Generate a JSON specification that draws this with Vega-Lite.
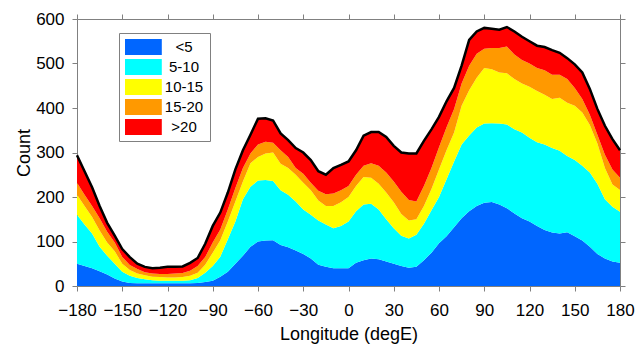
{
"$schema": "https://vega.github.io/schema/vega-lite/v6.json",
"width": 543, "height": 267,
"autosize": {"type": "none"},
"padding": {"left": 77, "top": 19, "right": 24, "bottom": 58},
"config": {"view": {"stroke": null}, "font": "Liberation Sans",
  "axis": {"grid": false, "domainColor": "#808080", "tickColor": "#808080", "tickSize": 5, "labelFontSize": 17, "labelColor": "#000000", "titleFontSize": 18, "titleFontWeight": "normal", "titleColor": "#000000", "labelFlush": false, "labelOverlap": false}},
"datasets": {"d": [
{"lon":-180,"c":"<5","k":1,"n":50},{"lon":-180,"c":"5-10","k":2,"n":110},{"lon":-180,"c":"10-15","k":3,"n":45},{"lon":-180,"c":"15-20","k":4,"n":27},{"lon":-180,"c":">20","k":5,"n":62},
{"lon":-175,"c":"<5","k":1,"n":45},{"lon":-175,"c":"5-10","k":2,"n":93},{"lon":-175,"c":"10-15","k":3,"n":42},{"lon":-175,"c":"15-20","k":4,"n":25},{"lon":-175,"c":">20","k":5,"n":53},
{"lon":-170,"c":"<5","k":1,"n":40},{"lon":-170,"c":"5-10","k":2,"n":78},{"lon":-170,"c":"10-15","k":3,"n":37},{"lon":-170,"c":"15-20","k":4,"n":25},{"lon":-170,"c":">20","k":5,"n":42},
{"lon":-165,"c":"<5","k":1,"n":33},{"lon":-165,"c":"5-10","k":2,"n":55},{"lon":-165,"c":"10-15","k":3,"n":37},{"lon":-165,"c":"15-20","k":4,"n":27},{"lon":-165,"c":">20","k":5,"n":28},
{"lon":-160,"c":"<5","k":1,"n":26},{"lon":-160,"c":"5-10","k":2,"n":42},{"lon":-160,"c":"10-15","k":3,"n":30},{"lon":-160,"c":"15-20","k":4,"n":24},{"lon":-160,"c":">20","k":5,"n":20},
{"lon":-155,"c":"<5","k":1,"n":17},{"lon":-155,"c":"5-10","k":2,"n":33},{"lon":-155,"c":"10-15","k":3,"n":28},{"lon":-155,"c":"15-20","k":4,"n":20},{"lon":-155,"c":">20","k":5,"n":15},
{"lon":-150,"c":"<5","k":1,"n":10},{"lon":-150,"c":"5-10","k":2,"n":22},{"lon":-150,"c":"10-15","k":3,"n":18},{"lon":-150,"c":"15-20","k":4,"n":15},{"lon":-150,"c":">20","k":5,"n":18},
{"lon":-145,"c":"<5","k":1,"n":7},{"lon":-145,"c":"5-10","k":2,"n":16},{"lon":-145,"c":"10-15","k":3,"n":13},{"lon":-145,"c":"15-20","k":4,"n":11},{"lon":-145,"c":">20","k":5,"n":18},
{"lon":-140,"c":"<5","k":1,"n":6},{"lon":-140,"c":"5-10","k":2,"n":12},{"lon":-140,"c":"10-15","k":3,"n":10},{"lon":-140,"c":"15-20","k":4,"n":10},{"lon":-140,"c":">20","k":5,"n":12},
{"lon":-135,"c":"<5","k":1,"n":6},{"lon":-135,"c":"5-10","k":2,"n":9},{"lon":-135,"c":"10-15","k":3,"n":9},{"lon":-135,"c":"15-20","k":4,"n":7},{"lon":-135,"c":">20","k":5,"n":12},
{"lon":-130,"c":"<5","k":1,"n":6},{"lon":-130,"c":"5-10","k":2,"n":7},{"lon":-130,"c":"10-15","k":3,"n":8},{"lon":-130,"c":"15-20","k":4,"n":7},{"lon":-130,"c":">20","k":5,"n":12},
{"lon":-125,"c":"<5","k":1,"n":6},{"lon":-125,"c":"5-10","k":2,"n":6},{"lon":-125,"c":"10-15","k":3,"n":8},{"lon":-125,"c":"15-20","k":4,"n":7},{"lon":-125,"c":">20","k":5,"n":14},
{"lon":-120,"c":"<5","k":1,"n":6},{"lon":-120,"c":"5-10","k":2,"n":6},{"lon":-120,"c":"10-15","k":3,"n":7},{"lon":-120,"c":"15-20","k":4,"n":8},{"lon":-120,"c":">20","k":5,"n":16},
{"lon":-115,"c":"<5","k":1,"n":6},{"lon":-115,"c":"5-10","k":2,"n":6},{"lon":-115,"c":"10-15","k":3,"n":7},{"lon":-115,"c":"15-20","k":4,"n":9},{"lon":-115,"c":">20","k":5,"n":15},
{"lon":-110,"c":"<5","k":1,"n":6},{"lon":-110,"c":"5-10","k":2,"n":6},{"lon":-110,"c":"10-15","k":3,"n":8},{"lon":-110,"c":"15-20","k":4,"n":9},{"lon":-110,"c":">20","k":5,"n":15},
{"lon":-105,"c":"<5","k":1,"n":6},{"lon":-105,"c":"5-10","k":2,"n":7},{"lon":-105,"c":"10-15","k":3,"n":10},{"lon":-105,"c":"15-20","k":4,"n":11},{"lon":-105,"c":">20","k":5,"n":18},
{"lon":-100,"c":"<5","k":1,"n":7},{"lon":-100,"c":"5-10","k":2,"n":11},{"lon":-100,"c":"10-15","k":3,"n":12},{"lon":-100,"c":"15-20","k":4,"n":15},{"lon":-100,"c":">20","k":5,"n":18},
{"lon":-95,"c":"<5","k":1,"n":9},{"lon":-95,"c":"5-10","k":2,"n":21},{"lon":-95,"c":"10-15","k":3,"n":18},{"lon":-95,"c":"15-20","k":4,"n":17},{"lon":-95,"c":">20","k":5,"n":30},
{"lon":-90,"c":"<5","k":1,"n":12},{"lon":-90,"c":"5-10","k":2,"n":33},{"lon":-90,"c":"10-15","k":3,"n":30},{"lon":-90,"c":"15-20","k":4,"n":23},{"lon":-90,"c":">20","k":5,"n":37},
{"lon":-85,"c":"<5","k":1,"n":21},{"lon":-85,"c":"5-10","k":2,"n":45},{"lon":-85,"c":"10-15","k":3,"n":37},{"lon":-85,"c":"15-20","k":4,"n":24},{"lon":-85,"c":">20","k":5,"n":38},
{"lon":-80,"c":"<5","k":1,"n":32},{"lon":-80,"c":"5-10","k":2,"n":73},{"lon":-80,"c":"10-15","k":3,"n":40},{"lon":-80,"c":"15-20","k":4,"n":27},{"lon":-80,"c":">20","k":5,"n":38},
{"lon":-75,"c":"<5","k":1,"n":50},{"lon":-75,"c":"5-10","k":2,"n":95},{"lon":-75,"c":"10-15","k":3,"n":45},{"lon":-75,"c":"15-20","k":4,"n":30},{"lon":-75,"c":">20","k":5,"n":42},
{"lon":-70,"c":"<5","k":1,"n":68},{"lon":-70,"c":"5-10","k":2,"n":127},{"lon":-70,"c":"10-15","k":3,"n":40},{"lon":-70,"c":"15-20","k":4,"n":30},{"lon":-70,"c":">20","k":5,"n":40},
{"lon":-65,"c":"<5","k":1,"n":88},{"lon":-65,"c":"5-10","k":2,"n":135},{"lon":-65,"c":"10-15","k":3,"n":53},{"lon":-65,"c":"15-20","k":4,"n":22},{"lon":-65,"c":">20","k":5,"n":42},
{"lon":-60,"c":"<5","k":1,"n":100},{"lon":-60,"c":"5-10","k":2,"n":137},{"lon":-60,"c":"10-15","k":3,"n":53},{"lon":-60,"c":"15-20","k":4,"n":28},{"lon":-60,"c":">20","k":5,"n":58},
{"lon":-55,"c":"<5","k":1,"n":102},{"lon":-55,"c":"5-10","k":2,"n":136},{"lon":-55,"c":"10-15","k":3,"n":60},{"lon":-55,"c":"15-20","k":4,"n":26},{"lon":-55,"c":">20","k":5,"n":53},
{"lon":-50,"c":"<5","k":1,"n":103},{"lon":-50,"c":"5-10","k":2,"n":133},{"lon":-50,"c":"10-15","k":3,"n":64},{"lon":-50,"c":"15-20","k":4,"n":22},{"lon":-50,"c":">20","k":5,"n":50},
{"lon":-45,"c":"<5","k":1,"n":92},{"lon":-45,"c":"5-10","k":2,"n":123},{"lon":-45,"c":"10-15","k":3,"n":60},{"lon":-45,"c":"15-20","k":4,"n":30},{"lon":-45,"c":">20","k":5,"n":38},
{"lon":-40,"c":"<5","k":1,"n":87},{"lon":-40,"c":"5-10","k":2,"n":118},{"lon":-40,"c":"10-15","k":3,"n":60},{"lon":-40,"c":"15-20","k":4,"n":25},{"lon":-40,"c":">20","k":5,"n":38},
{"lon":-35,"c":"<5","k":1,"n":80},{"lon":-35,"c":"5-10","k":2,"n":110},{"lon":-35,"c":"10-15","k":3,"n":60},{"lon":-35,"c":"15-20","k":4,"n":15},{"lon":-35,"c":">20","k":5,"n":45},
{"lon":-30,"c":"<5","k":1,"n":72},{"lon":-30,"c":"5-10","k":2,"n":100},{"lon":-30,"c":"10-15","k":3,"n":60},{"lon":-30,"c":"15-20","k":4,"n":20},{"lon":-30,"c":">20","k":5,"n":48},
{"lon":-25,"c":"<5","k":1,"n":62},{"lon":-25,"c":"5-10","k":2,"n":98},{"lon":-25,"c":"10-15","k":3,"n":55},{"lon":-25,"c":"15-20","k":4,"n":17},{"lon":-25,"c":">20","k":5,"n":51},
{"lon":-20,"c":"<5","k":1,"n":48},{"lon":-20,"c":"5-10","k":2,"n":99},{"lon":-20,"c":"10-15","k":3,"n":45},{"lon":-20,"c":"15-20","k":4,"n":22},{"lon":-20,"c":">20","k":5,"n":44},
{"lon":-15,"c":"<5","k":1,"n":43},{"lon":-15,"c":"5-10","k":2,"n":95},{"lon":-15,"c":"10-15","k":3,"n":42},{"lon":-15,"c":"15-20","k":4,"n":26},{"lon":-15,"c":">20","k":5,"n":44},
{"lon":-10,"c":"<5","k":1,"n":40},{"lon":-10,"c":"5-10","k":2,"n":90},{"lon":-10,"c":"10-15","k":3,"n":50},{"lon":-10,"c":"15-20","k":4,"n":28},{"lon":-10,"c":">20","k":5,"n":57},
{"lon":-5,"c":"<5","k":1,"n":40},{"lon":-5,"c":"5-10","k":2,"n":95},{"lon":-5,"c":"10-15","k":3,"n":53},{"lon":-5,"c":"15-20","k":4,"n":27},{"lon":-5,"c":">20","k":5,"n":57},
{"lon":0,"c":"<5","k":1,"n":40},{"lon":0,"c":"5-10","k":2,"n":105},{"lon":0,"c":"10-15","k":3,"n":55},{"lon":0,"c":"15-20","k":4,"n":25},{"lon":0,"c":">20","k":5,"n":55},
{"lon":5,"c":"<5","k":1,"n":52},{"lon":5,"c":"5-10","k":2,"n":116},{"lon":5,"c":"10-15","k":3,"n":57},{"lon":5,"c":"15-20","k":4,"n":25},{"lon":5,"c":">20","k":5,"n":55},
{"lon":10,"c":"<5","k":1,"n":58},{"lon":10,"c":"5-10","k":2,"n":125},{"lon":10,"c":"10-15","k":3,"n":62},{"lon":10,"c":"15-20","k":4,"n":25},{"lon":10,"c":">20","k":5,"n":68},
{"lon":15,"c":"<5","k":1,"n":62},{"lon":15,"c":"5-10","k":2,"n":123},{"lon":15,"c":"10-15","k":3,"n":58},{"lon":15,"c":"15-20","k":4,"n":33},{"lon":15,"c":">20","k":5,"n":70},
{"lon":20,"c":"<5","k":1,"n":60},{"lon":20,"c":"5-10","k":2,"n":112},{"lon":20,"c":"10-15","k":3,"n":58},{"lon":20,"c":"15-20","k":4,"n":40},{"lon":20,"c":">20","k":5,"n":76},
{"lon":25,"c":"<5","k":1,"n":55},{"lon":25,"c":"5-10","k":2,"n":95},{"lon":25,"c":"10-15","k":3,"n":60},{"lon":25,"c":"15-20","k":4,"n":45},{"lon":25,"c":">20","k":5,"n":80},
{"lon":30,"c":"<5","k":1,"n":50},{"lon":30,"c":"5-10","k":2,"n":80},{"lon":30,"c":"10-15","k":3,"n":58},{"lon":30,"c":"15-20","k":4,"n":47},{"lon":30,"c":">20","k":5,"n":80},
{"lon":35,"c":"<5","k":1,"n":45},{"lon":35,"c":"5-10","k":2,"n":68},{"lon":35,"c":"10-15","k":3,"n":49},{"lon":35,"c":"15-20","k":4,"n":50},{"lon":35,"c":">20","k":5,"n":88},
{"lon":40,"c":"<5","k":1,"n":41},{"lon":40,"c":"5-10","k":2,"n":66},{"lon":40,"c":"10-15","k":3,"n":40},{"lon":40,"c":"15-20","k":4,"n":46},{"lon":40,"c":">20","k":5,"n":105},
{"lon":45,"c":"<5","k":1,"n":43},{"lon":45,"c":"5-10","k":2,"n":72},{"lon":45,"c":"10-15","k":3,"n":35},{"lon":45,"c":"15-20","k":4,"n":40},{"lon":45,"c":">20","k":5,"n":108},
{"lon":50,"c":"<5","k":1,"n":58},{"lon":50,"c":"5-10","k":2,"n":82},{"lon":50,"c":"10-15","k":3,"n":40},{"lon":50,"c":"15-20","k":4,"n":45},{"lon":50,"c":">20","k":5,"n":101},
{"lon":55,"c":"<5","k":1,"n":75},{"lon":55,"c":"5-10","k":2,"n":95},{"lon":55,"c":"10-15","k":3,"n":48},{"lon":55,"c":"15-20","k":4,"n":47},{"lon":55,"c":">20","k":5,"n":87},
{"lon":60,"c":"<5","k":1,"n":96},{"lon":60,"c":"5-10","k":2,"n":104},{"lon":60,"c":"10-15","k":3,"n":62},{"lon":60,"c":"15-20","k":4,"n":50},{"lon":60,"c":">20","k":5,"n":68},
{"lon":65,"c":"<5","k":1,"n":112},{"lon":65,"c":"5-10","k":2,"n":128},{"lon":65,"c":"10-15","k":3,"n":65},{"lon":65,"c":"15-20","k":4,"n":52},{"lon":65,"c":">20","k":5,"n":58},
{"lon":70,"c":"<5","k":1,"n":132},{"lon":70,"c":"5-10","k":2,"n":148},{"lon":70,"c":"10-15","k":3,"n":65},{"lon":70,"c":"15-20","k":4,"n":53},{"lon":70,"c":">20","k":5,"n":47},
{"lon":75,"c":"<5","k":1,"n":152},{"lon":75,"c":"5-10","k":2,"n":166},{"lon":75,"c":"10-15","k":3,"n":87},{"lon":75,"c":"15-20","k":4,"n":50},{"lon":75,"c":">20","k":5,"n":40},
{"lon":80,"c":"<5","k":1,"n":168},{"lon":80,"c":"5-10","k":2,"n":170},{"lon":80,"c":"10-15","k":3,"n":102},{"lon":80,"c":"15-20","k":4,"n":55},{"lon":80,"c":">20","k":5,"n":58},
{"lon":85,"c":"<5","k":1,"n":180},{"lon":85,"c":"5-10","k":2,"n":176},{"lon":85,"c":"10-15","k":3,"n":112},{"lon":85,"c":"15-20","k":4,"n":54},{"lon":85,"c":">20","k":5,"n":50},
{"lon":90,"c":"<5","k":1,"n":187},{"lon":90,"c":"5-10","k":2,"n":178},{"lon":90,"c":"10-15","k":3,"n":125},{"lon":90,"c":"15-20","k":4,"n":43},{"lon":90,"c":">20","k":5,"n":47},
{"lon":95,"c":"<5","k":1,"n":189},{"lon":95,"c":"5-10","k":2,"n":177},{"lon":95,"c":"10-15","k":3,"n":121},{"lon":95,"c":"15-20","k":4,"n":48},{"lon":95,"c":">20","k":5,"n":43},
{"lon":100,"c":"<5","k":1,"n":183},{"lon":100,"c":"5-10","k":2,"n":182},{"lon":100,"c":"10-15","k":3,"n":115},{"lon":100,"c":"15-20","k":4,"n":55},{"lon":100,"c":">20","k":5,"n":41},
{"lon":105,"c":"<5","k":1,"n":175},{"lon":105,"c":"5-10","k":2,"n":188},{"lon":105,"c":"10-15","k":3,"n":115},{"lon":105,"c":"15-20","k":4,"n":60},{"lon":105,"c":">20","k":5,"n":44},
{"lon":110,"c":"<5","k":1,"n":163},{"lon":110,"c":"5-10","k":2,"n":189},{"lon":110,"c":"10-15","k":3,"n":113},{"lon":110,"c":"15-20","k":4,"n":55},{"lon":110,"c":">20","k":5,"n":52},
{"lon":115,"c":"<5","k":1,"n":152},{"lon":115,"c":"5-10","k":2,"n":193},{"lon":115,"c":"10-15","k":3,"n":110},{"lon":115,"c":"15-20","k":4,"n":53},{"lon":115,"c":">20","k":5,"n":52},
{"lon":120,"c":"<5","k":1,"n":145},{"lon":120,"c":"5-10","k":2,"n":188},{"lon":120,"c":"10-15","k":3,"n":115},{"lon":120,"c":"15-20","k":4,"n":52},{"lon":120,"c":">20","k":5,"n":50},
{"lon":125,"c":"<5","k":1,"n":135},{"lon":125,"c":"5-10","k":2,"n":188},{"lon":125,"c":"10-15","k":3,"n":115},{"lon":125,"c":"15-20","k":4,"n":52},{"lon":125,"c":">20","k":5,"n":50},
{"lon":130,"c":"<5","k":1,"n":126},{"lon":130,"c":"5-10","k":2,"n":192},{"lon":130,"c":"10-15","k":3,"n":112},{"lon":130,"c":"15-20","k":4,"n":55},{"lon":130,"c":">20","k":5,"n":52},
{"lon":135,"c":"<5","k":1,"n":120},{"lon":135,"c":"5-10","k":2,"n":190},{"lon":135,"c":"10-15","k":3,"n":110},{"lon":135,"c":"15-20","k":4,"n":55},{"lon":135,"c":">20","k":5,"n":55},
{"lon":140,"c":"<5","k":1,"n":118},{"lon":140,"c":"5-10","k":2,"n":186},{"lon":140,"c":"10-15","k":3,"n":119},{"lon":140,"c":"15-20","k":4,"n":52},{"lon":140,"c":">20","k":5,"n":49},
{"lon":145,"c":"<5","k":1,"n":121},{"lon":145,"c":"5-10","k":2,"n":171},{"lon":145,"c":"10-15","k":3,"n":120},{"lon":145,"c":"15-20","k":4,"n":53},{"lon":145,"c":">20","k":5,"n":47},
{"lon":150,"c":"<5","k":1,"n":112},{"lon":150,"c":"5-10","k":2,"n":171},{"lon":150,"c":"10-15","k":3,"n":122},{"lon":150,"c":"15-20","k":4,"n":40},{"lon":150,"c":">20","k":5,"n":53},
{"lon":155,"c":"<5","k":1,"n":102},{"lon":155,"c":"5-10","k":2,"n":168},{"lon":155,"c":"10-15","k":3,"n":120},{"lon":155,"c":"15-20","k":4,"n":30},{"lon":155,"c":">20","k":5,"n":60},
{"lon":160,"c":"<5","k":1,"n":88},{"lon":160,"c":"5-10","k":2,"n":167},{"lon":160,"c":"10-15","k":3,"n":107},{"lon":160,"c":"15-20","k":4,"n":23},{"lon":160,"c":">20","k":5,"n":58},
{"lon":165,"c":"<5","k":1,"n":72},{"lon":165,"c":"5-10","k":2,"n":158},{"lon":165,"c":"10-15","k":3,"n":90},{"lon":165,"c":"15-20","k":4,"n":20},{"lon":165,"c":">20","k":5,"n":58},
{"lon":170,"c":"<5","k":1,"n":62},{"lon":170,"c":"5-10","k":2,"n":133},{"lon":170,"c":"10-15","k":3,"n":70},{"lon":170,"c":"15-20","k":4,"n":30},{"lon":170,"c":">20","k":5,"n":65},
{"lon":175,"c":"<5","k":1,"n":55},{"lon":175,"c":"5-10","k":2,"n":123},{"lon":175,"c":"10-15","k":3,"n":50},{"lon":175,"c":"15-20","k":4,"n":34},{"lon":175,"c":">20","k":5,"n":68},
{"lon":180,"c":"<5","k":1,"n":52},{"lon":180,"c":"5-10","k":2,"n":115},{"lon":180,"c":"10-15","k":3,"n":49},{"lon":180,"c":"15-20","k":4,"n":27},{"lon":180,"c":">20","k":5,"n":62}
]},
"data": {"name": "d"},
"layer": [
 {"mark": {"type": "area", "interpolate": "linear"},
  "encoding": {
   "x": {"field": "lon", "type": "quantitative", "scale": {"domain": [-180, 180], "nice": false, "zero": false},
         "axis": {"values": [-180,-150,-120,-90,-60,-30,0,30,60,90,120,150,180], "title": "Longitude (degE)", "labelPadding": 11, "titlePadding": 7}},
   "y": {"field": "n", "type": "quantitative", "stack": "zero", "scale": {"domain": [0, 600], "nice": false},
         "axis": {"values": [0,100,200,300,400,500,600], "title": "Count", "labelPadding": 8, "titlePadding": 2}},
   "color": {"field": "c", "type": "nominal",
     "scale": {"domain": ["<5","5-10","10-15","15-20",">20"], "range": ["#0066ff","#00ffff","#ffff00","#ff9900","#ff0000"]},
     "legend": {"orient": "none", "legendX": 42, "legendY": 14, "title": null, "direction": "vertical",
        "strokeColor": "#808080", "fillColor": "#ffffff", "padding": 6,
        "symbolType": "M-1,-1H3.6V1H-1Z", "symbolSize": 256, "symbolStrokeWidth": 0, "symbolOpacity": 1,
        "labelFontSize": 15, "labelAlign": "center", "labelOffset": 43, "rowPadding": 4, "labelColor": "#000000"}},
   "order": {"field": "k", "type": "quantitative", "sort": "ascending"}
  }},
 {"transform": [{"aggregate": [{"op": "sum", "field": "n", "as": "t"}], "groupby": ["lon"]}],
  "mark": {"type": "line", "color": "#000000", "strokeWidth": 2.5, "interpolate": "linear"},
  "encoding": {
   "x": {"field": "lon", "type": "quantitative", "axis": {"orient": "top", "labels": false, "title": null, "values": [-180,-150,-120,-90,-60,-30,0,30,60,90,120,150,180]}},
   "y": {"field": "t", "type": "quantitative", "axis": {"orient": "right", "labels": false, "title": null, "values": [0,100,200,300,400,500,600]}}
  }}
],
"resolve": {"axis": {"x": "independent", "y": "independent"}}
}
